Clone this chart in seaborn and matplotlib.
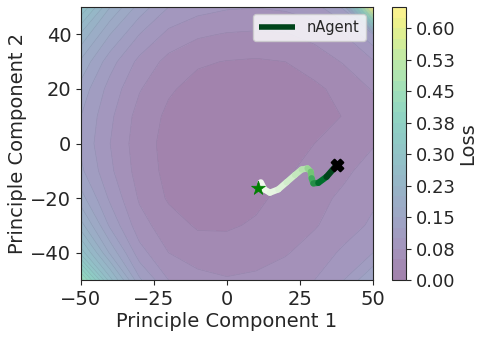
import numpy as np
import matplotlib
matplotlib.use("Agg")
import matplotlib.pyplot as plt
import seaborn as sns
from matplotlib.collections import LineCollection
from matplotlib.colors import ListedColormap

# ==========================================================
# Data
# ==========================================================

# grid of the loss landscape (PCA plane)
pc1 = [-50, -40, -30, -20, -10, 0, 10, 20, 30, 40, 50]
pc2 = [50, 40, 30, 20, 10, 0, -10, -20, -30, -40, -50]

# loss values, one row per pc2 value (top row = pc2 50)
loss_y50 = [0.30, 0.20, 0.14, 0.10, 0.085, 0.078, 0.076, 0.080, 0.090, 0.130, 0.648]
loss_y40 = [0.22, 0.15, 0.10, 0.068, 0.054, 0.048, 0.046, 0.048, 0.058, 0.075, 0.120]
loss_y30 = [0.17, 0.11, 0.068, 0.042, 0.028, 0.024, 0.022, 0.025, 0.036, 0.052, 0.072]
loss_y20 = [0.14, 0.09, 0.052, 0.028, 0.017, 0.013, 0.012, 0.014, 0.020, 0.033, 0.052]
loss_y10 = [0.125, 0.08, 0.040, 0.020, 0.009, 0.005, 0.004, 0.007, 0.015, 0.026, 0.042]
loss_y0 = [0.12, 0.075, 0.036, 0.017, 0.006, 0.002, 0.004, 0.012, 0.025, 0.038, 0.048]
loss_ym10 = [0.13, 0.08, 0.039, 0.018, 0.007, 0.004, 0.010, 0.022, 0.032, 0.045, 0.060]
loss_ym20 = [0.16, 0.095, 0.047, 0.022, 0.012, 0.010, 0.020, 0.032, 0.042, 0.055, 0.070]
loss_ym30 = [0.21, 0.12, 0.060, 0.036, 0.022, 0.022, 0.028, 0.038, 0.048, 0.062, 0.080]
loss_ym40 = [0.29, 0.17, 0.085, 0.050, 0.038, 0.036, 0.040, 0.048, 0.060, 0.080, 0.100]
loss_ym50 = [0.44, 0.26, 0.13, 0.075, 0.058, 0.052, 0.055, 0.062, 0.075, 0.100, 0.150]

# agent trajectory in the PCA plane
traj_x = [11.6, 12.8, 14.7, 17.6, 20.4, 23.3, 25.6, 27.6, 28.7, 29.0, 29.6, 31.3, 34.1, 37.6]
traj_y = [-14.2, -16.8, -18.0, -16.8, -14.2, -11.5, -9.5, -9.1, -10.3, -12.7, -14.6, -14.4, -12.2, -7.9]
# training progress of each trajectory point (0 = start, 1 = end)
traj_progress = [0.02, 0.05, 0.08, 0.12, 0.16, 0.21, 0.26, 0.31, 0.40, 0.50, 0.62, 0.74, 0.87, 1.0]

# start (star) and end (cross) markers
start_x, start_y = 10.7, -16.2
end_x, end_y = 37.6, -7.9

cbar_ticks = [0.0, 0.075, 0.15, 0.225, 0.30, 0.375, 0.45, 0.525, 0.60]
cbar_ticklabels = ["0.00", "0.08", "0.15", "0.23", "0.30", "0.38", "0.45", "0.53", "0.60"]

# ==========================================================
# Plot
# ==========================================================

sns.set_style("ticks")
plt.rcParams['font.family'] = ['DejaVu Sans']

Z = np.array([loss_y50, loss_y40, loss_y30, loss_y20, loss_y10, loss_y0,
              loss_ym10, loss_ym20, loss_ym30, loss_ym40, loss_ym50])
X, Y = np.meshgrid(pc1, pc2)

# viridis at half opacity on white, baked into an opaque colormap
vir = plt.get_cmap('viridis')(np.linspace(0, 1, 256))
vir[:, :3] = 0.5 * vir[:, :3] + 0.5
half_viridis = ListedColormap(vir)

fig = plt.figure(figsize=(4.89, 3.39), dpi=100)
ax = fig.add_axes([0.1656, 0.174, 0.597, 0.805])
cax = fig.add_axes([0.8016, 0.174, 0.0286, 0.805])

levels = np.linspace(0, 0.65, 27)
cs = ax.contourf(X, Y, Z, levels=levels, cmap=half_viridis, antialiased=False)
# faint contour edges like the reference
ax.contour(X, Y, Z, levels=levels, colors='#6a5a80', linewidths=0.4, alpha=0.25)

# trajectory coloured by progress
pts = np.column_stack([traj_x, traj_y]).reshape(-1, 1, 2)
segs = np.concatenate([pts[:-1], pts[1:]], axis=1)
lc = LineCollection(segs, cmap='Greens', norm=plt.Normalize(0, 1),
                    linewidths=4.5, capstyle='round', joinstyle='round', zorder=3)
lc.set_array(np.array(traj_progress[1:]))
ax.add_collection(lc)

# legend proxy
ax.plot([], [], color=plt.get_cmap('Greens')(1.0), lw=4, solid_capstyle='butt',
        label='nAgent')

sns.scatterplot(x=[start_x], y=[start_y], marker='*', s=110, color='green',
                edgecolor='green', linewidth=0.5, ax=ax, zorder=4)
sns.scatterplot(x=[end_x], y=[end_y], marker='X', s=70, color='black',
                edgecolor='black', linewidth=1.5, ax=ax, zorder=4)

ax.set_xlim(-50, 50)
ax.set_ylim(-50, 50)
ax.set_xticks([-50, -25, 0, 25, 50])
ax.set_yticks([-40, -20, 0, 20, 40])
ax.tick_params(labelsize=14)
ax.set_xlabel("Principle Component 1", fontsize=14, labelpad=2)
ax.set_ylabel("Principle Component 2", fontsize=14, labelpad=2)
ax.legend(loc='upper right', fontsize=10.5, handlelength=2.5)

cb = fig.colorbar(cs, cax=cax)
cb.set_ticks(cbar_ticks)
cb.set_ticklabels(cbar_ticklabels)
cb.ax.tick_params(labelsize=13)
cb.set_label("Loss", fontsize=14, labelpad=2)

plt.savefig("out.png", dpi=100)
